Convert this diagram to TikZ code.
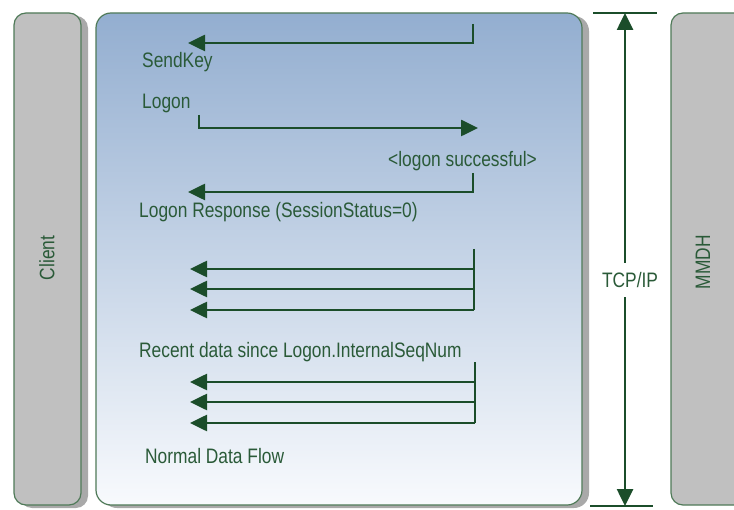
\documentclass[tikz,border=0pt]{standalone}
\usepackage{fontspec}
\setmainfont{Liberation Sans}
\newfontfamily\lblfont[FakeStretch=0.83]{Liberation Sans}
\usetikzlibrary{arrows.meta}
\definecolor{lineg}{HTML}{1B4D2A}
\definecolor{textg}{HTML}{2A5A38}
\definecolor{edgeg}{HTML}{4F7A58}
\definecolor{boxgray}{HTML}{C0C0C0}
\definecolor{shadowgray}{HTML}{A9A9A9}
\definecolor{blueTop}{HTML}{93AED0}
\definecolor{blueBot}{HTML}{F8FAFD}
\tikzset{
  txt/.style={inner sep=0pt, text=textg, font=\lblfont\fontsize{21}{24}\selectfont},
  lbl/.style={txt, anchor=base west},
  flow/.style={draw=lineg, line width=2.6bp, -{Triangle[length=17bp,width=16bp]}},
  flowplain/.style={draw=lineg, line width=2.6bp},
  sidebox/.style={draw=edgeg, line width=1.2bp, fill=boxgray, rounded corners=12bp},
}
\begin{document}
\begin{tikzpicture}[x=1bp,y=-1bp]
\useasboundingbox (0,0) rectangle (734,510);
\clip (0,0) rectangle (734,510);
% shadows
\fill[shadowgray, rounded corners=12bp] (20,16) rectangle (88,508);
\fill[shadowgray, rounded corners=15bp] (102,16) rectangle (589,508);
% client box
\draw[sidebox] (14,13) rectangle (81,505);
\node[txt, rotate=90] (client) at (47,258) {Client};
% main box
\draw[draw=edgeg, line width=1.2bp, rounded corners=15bp, top color=blueTop, bottom color=blueBot] (96,13) rectangle (582,505);
% MMDH box
\draw[sidebox] (671,13) rectangle (760,505);
\node[txt, rotate=90] (mmdh) at (703,262) {MMDH};
% TCP/IP
\node[txt] (tcp) at (630,280) {TCP/IP};
\coordinate (ttop) at (625,13);
\coordinate (tbot) at (625,506);
\draw[flowplain] (593,13) -- (657,13);
\draw[flowplain] (590,506) -- (653,506);
\draw[flow] (625,263) -- (ttop);
\draw[flow] (625,297) -- (tbot);
% SendKey
\coordinate (s1a) at (473,24);
\coordinate (s1b) at (188,43);
\draw[flow] (s1a) |- (s1b);
\node[lbl] (sendkey) at (142,68) {SendKey};
% Logon
\node[lbl] (logon) at (142,109) {Logon};
\coordinate (s2a) at (199,115);
\coordinate (s2b) at (478,128);
\draw[flow] (s2a) |- (s2b);
\node[lbl] (succ) at (388,167) {<logon successful>};
% Response
\coordinate (s3a) at (473,173);
\coordinate (s3b) at (188,192);
\draw[flow] (s3a) |- (s3b);
\node[lbl] (resp) at (139,218) {Logon Response (SessionStatus=0)};
% Recent data
\coordinate (r0) at (474,249);
\coordinate (r1) at (190,269);
\coordinate (r2) at (190,289);
\coordinate (r3) at (190,310);
\draw[flowplain] (r0) -- (474,310);
\draw[flow] (474,269) -- (r1);
\draw[flow] (474,289) -- (r2);
\draw[flow] (474,310) -- (r3);
\node[lbl] (recent) at (139,357) {Recent data since Logon.InternalSeqNum};
% Normal
\coordinate (n0) at (475,362);
\coordinate (n1) at (190,382);
\coordinate (n2) at (190,402);
\coordinate (n3) at (190,423);
\draw[flowplain] (n0) -- (475,423);
\draw[flow] (475,382) -- (n1);
\draw[flow] (475,402) -- (n2);
\draw[flow] (475,423) -- (n3);
\node[lbl] (normal) at (145,463) {Normal Data Flow};
\end{tikzpicture}
\end{document}
